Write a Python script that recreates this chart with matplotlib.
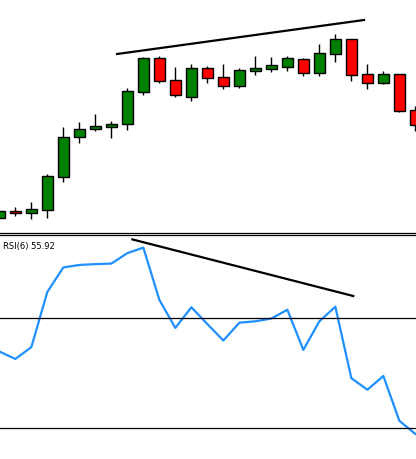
import numpy as np
import matplotlib
matplotlib.use("Agg")
from matplotlib import pyplot as plt

# candle data (arbitrary price units)
opens  = [20.7, 28.0, 25.7, 29.3, 62.3, 101.7, 109.7, 112.3, 115.3, 147.3, 181.0, 159.0, 142.3, 171.0,
          162.0, 153.3, 168.3, 170.3, 172.3, 180.0, 166.3, 185.3, 200.0, 165.0, 156.3, 165.0, 129.0]
highs  = [28.5, 32.0, 37.0, 65.0, 112.0, 117.0, 125.0, 118.0, 151.0, 182.0, 183.0, 172.0, 175.0, 173.0,
          175.0, 171.0, 183.0, 182.0, 183.0, 181.0, 195.0, 205.0, 200.0, 175.0, 168.0, 165.0, 133.0]
lows   = [20.0, 23.3, 20.3, 21.3, 57.3, 96.3, 108.3, 101.3, 109.3, 144.3, 156.3, 142.3, 138.3, 156.3,
          150.3, 151.3, 164.3, 167.3, 168.3, 163.3, 163.3, 177.3, 158.3, 150.3, 155.3, 127.3, 108.3]
closes = [28.0, 25.7, 30.0, 63.0, 102.0, 110.0, 113.0, 115.0, 148.0, 181.0, 158.3, 144.3, 171.0, 161.3,
          153.3, 169.0, 171.0, 174.0, 181.0, 166.3, 186.0, 200.0, 164.3, 156.3, 165.0, 128.3, 114.3]

rsi = [57.9, 55.2, 59.5, 79.6, 88.5, 89.4, 89.7, 89.9, 93.7, 95.7, 76.7, 66.5, 74.0, 67.9,
       61.9, 68.4, 68.9, 69.9, 73.1, 58.5, 68.9, 74.2, 48.2, 44.0, 49.0, 32.7, 27.9]
rsi_levels = [70, 30]
rsi_label = "RSI(6) 55.92"

# divergence lines
price_trend_x = [7.36, 22.79]
price_trend_y = [185.0, 219.0]
rsi_trend_x = [8.31, 22.12]
rsi_trend_y = [98.7, 78.1]

x = np.arange(len(opens))
o = np.array(opens)
c = np.array(closes)
up = c >= o

fig = plt.figure(figsize=(4.16, 4.60), dpi=100)
ax1 = fig.add_axes([0, 234 / 460, 1, 226 / 460 + 0.0001])
ax1.set_position([0, 1 - 234 / 460, 1, 234 / 460])
ax2 = fig.add_axes([0, 0, 1, 224 / 460])

# candles
ax1.vlines(x, lows, highs, color="black", linewidth=1.0, zorder=1)
ax1.bar(x, np.abs(c - o), bottom=np.minimum(o, c), width=0.67,
        color=np.where(up, "#008000", "#ff0000"), edgecolor="black", linewidth=1.0, zorder=2)
ax1.plot(price_trend_x, price_trend_y, color="black", linewidth=1.6)
ax1.set_xlim(0.04, 26.04)
ax1.set_ylim(6, 240)

# rsi
ax2.plot(x, rsi, color="#1e90ff", linewidth=1.6)
for lv in rsi_levels:
    ax2.axhline(lv, color="black", linewidth=0.9)
ax2.plot(rsi_trend_x, rsi_trend_y, color="black", linewidth=1.6)
ax2.set_xlim(0.04, 26.04)
ax2.set_ylim(18.8, 100.3)
ax2.text(0.007, 0.955, rsi_label, transform=ax2.transAxes, fontsize=6,
         ha="left", va="center", family="DejaVu Sans")

for ax in (ax1, ax2):
    ax.set_xticks([])
    ax.set_yticks([])
    for s in ax.spines.values():
        s.set_visible(False)
ax1.spines["bottom"].set_visible(True)
ax1.spines["bottom"].set_linewidth(0.9)
ax2.spines["top"].set_visible(True)
ax2.spines["top"].set_linewidth(0.9)

fig.savefig("out.png", dpi=100)
